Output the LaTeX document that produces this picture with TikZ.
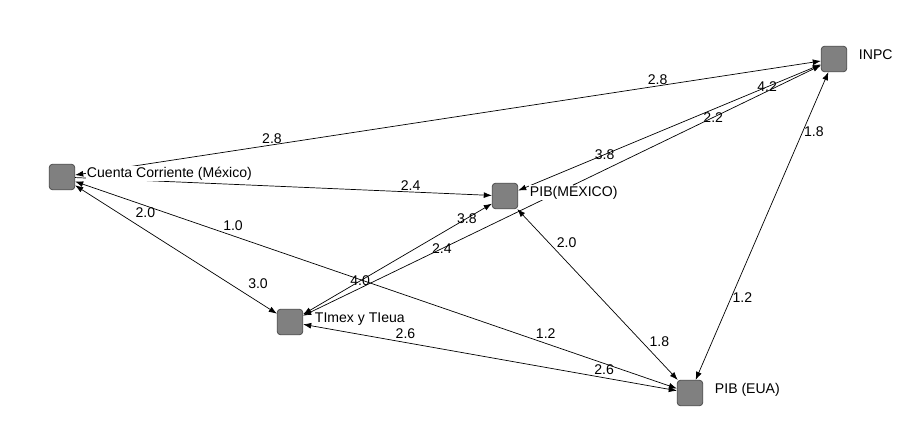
\documentclass[tikz,border=0pt]{standalone}
\usepackage{fontspec}
\setmainfont{Liberation Sans}
\usepackage{tikz}
\usetikzlibrary{arrows.meta, positioning}

\begin{document}
\begin{tikzpicture}[
      x=0.03cm, y=-0.03cm,
      font=\fontsize{12}{14}\selectfont,
      var/.style={draw=black!75, fill=black!50, rounded corners=2.5pt, minimum size=0.76cm, inner sep=0pt, line width=0.6pt},
      vname/.style={right=9pt of #1, yshift=3pt, inner sep=1pt, fill=white, text height=1.6ex, text depth=.3ex},
      link/.style={-{Latex[length=7pt,width=5pt]}, line width=0.6pt},
      both/.style={{Latex[length=7pt,width=5pt]}-{Latex[length=7pt,width=5pt]}, line width=0.6pt},
      val/.style={inner sep=1pt}
    ]
      \useasboundingbox (0,0) rectangle (918,438);
      \node[var] (cc) at (62,177) {};
      \node[var] (pibmx) at (505,196) {};
      \node[var] (timex) at (290,322) {};
      \node[var] (pibeua) at (690,393) {};
      \node[var] (inpc) at (834,59) {};

      \draw[both] (cc) -- node[val, pos=.264, above] {2.8} node[val, pos=.781, above] {2.8} (inpc);
      \draw[link] (cc) -- node[val, pos=.805, above] {2.4} (pibmx);
      \draw[both] (cc) -- node[val, pos=.28, above right=3pt] {2.0} node[val, pos=.838, above right=3pt] {3.0} (timex);
      \draw[both] (cc) -- node[val, pos=.2625, above=3pt] {1.0} node[val, pos=.782, above=3pt] {1.2} (pibeua);
      \draw[both] (timex) -- node[val, pos=.274, above=2pt] {2.6} node[val, pos=.805, above=1pt] {2.6} (pibeua);
      \draw[both] (timex) -- node[val, pos=.302] {4.0} node[val, pos=.867] {3.8} (pibmx);
      \draw[both] (timex) -- node[val, pos=.268] {2.4} node[val, pos=.792] {2.2} (inpc);
      \draw[both] (pibmx) -- node[val, pos=.286] {3.8} node[val, pos=.822] {4.2} (inpc);
      \draw[both] (pibmx) -- node[val, pos=.237, above right] {2.0} node[val, pos=.815, above right] {1.8} (pibeua);
      \draw[both] (pibeua) -- node[val, pos=.267, right] {1.2} node[val, pos=.805, right] {1.8} (inpc);

      \node[vname=cc] (ccname) {Cuenta Corriente (México)};
      \node[vname=pibmx] (pibmxname) {PIB(MÉXICO)};
      \node[vname=timex] (timexname) {TImex y TIeua};
      \node[vname=pibeua] (pibeuaname) {PIB (EUA)};
      \node[vname=inpc] (inpcname) {INPC};
\end{tikzpicture}
\end{document}
